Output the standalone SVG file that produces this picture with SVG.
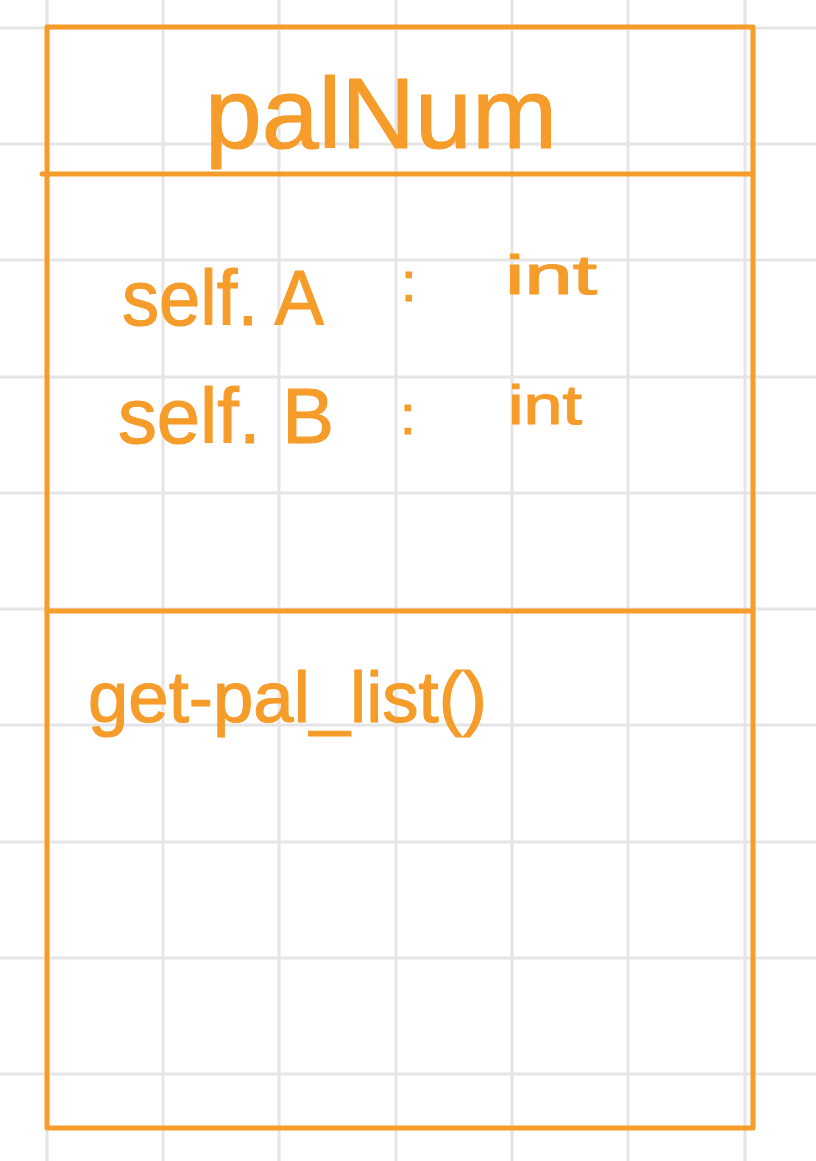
<svg xmlns="http://www.w3.org/2000/svg" width="816" height="1161" viewBox="0 0 816 1161">
  <style>
    .grid line { stroke: #e5e5e5; stroke-width: 3; }
    .box { fill: none; stroke: #f59c2a; stroke-width: 5; stroke-linecap: round; stroke-linejoin: round; }
    .hand { fill: #f59c2a; stroke: #f59c2a; stroke-width: 1.2; stroke-linejoin: round; font-family: "Liberation Sans", "DejaVu Sans", sans-serif; font-weight: normal; }
  </style>
  <rect x="0" y="0" width="816" height="1161" fill="#ffffff"/>
  <g class="grid" id="grid">
    <line x1="47" y1="0" x2="47" y2="1161"/>
    <line x1="163" y1="0" x2="163" y2="1161"/>
    <line x1="279" y1="0" x2="279" y2="1161"/>
    <line x1="396" y1="0" x2="396" y2="1161"/>
    <line x1="512" y1="0" x2="512" y2="1161"/>
    <line x1="628" y1="0" x2="628" y2="1161"/>
    <line x1="745" y1="0" x2="745" y2="1161"/>
    <line x1="0" y1="28" x2="816" y2="28"/>
    <line x1="0" y1="144" x2="816" y2="144"/>
    <line x1="0" y1="260" x2="816" y2="260"/>
    <line x1="0" y1="377" x2="816" y2="377"/>
    <line x1="0" y1="493" x2="816" y2="493"/>
    <line x1="0" y1="609" x2="816" y2="609"/>
    <line x1="0" y1="725" x2="816" y2="725"/>
    <line x1="0" y1="842" x2="816" y2="842"/>
    <line x1="0" y1="958" x2="816" y2="958"/>
    <line x1="0" y1="1074" x2="816" y2="1074"/>
  </g>
  <g id="connectors"/>
  <g id="palNum">
    <rect class="box" x="47" y="27" width="706" height="1101"/>
    <line class="box" x1="42" y1="174" x2="753" y2="174"/>
    <line class="box" x1="47" y1="611" x2="753" y2="611"/>
    <text class="hand" x="205" y="148" font-size="100" textLength="352" lengthAdjust="spacingAndGlyphs">palNum</text>
    <text class="hand" x="122" y="325" font-size="78" textLength="202" lengthAdjust="spacingAndGlyphs">self. A</text>
    <text class="hand" x="401" y="301" font-size="56">:</text>
    <text class="hand" x="505" y="294" font-size="56" textLength="92" lengthAdjust="spacingAndGlyphs">int</text>
    <text class="hand" x="118" y="443" font-size="78" textLength="216" lengthAdjust="spacingAndGlyphs">self. B</text>
    <text class="hand" x="400" y="434" font-size="56">:</text>
    <text class="hand" x="508" y="424" font-size="56" textLength="74" lengthAdjust="spacingAndGlyphs">int</text>
    <text class="hand" x="88" y="722" font-size="72" textLength="399" lengthAdjust="spacingAndGlyphs">get-pal_list()</text>
  </g>
</svg>
